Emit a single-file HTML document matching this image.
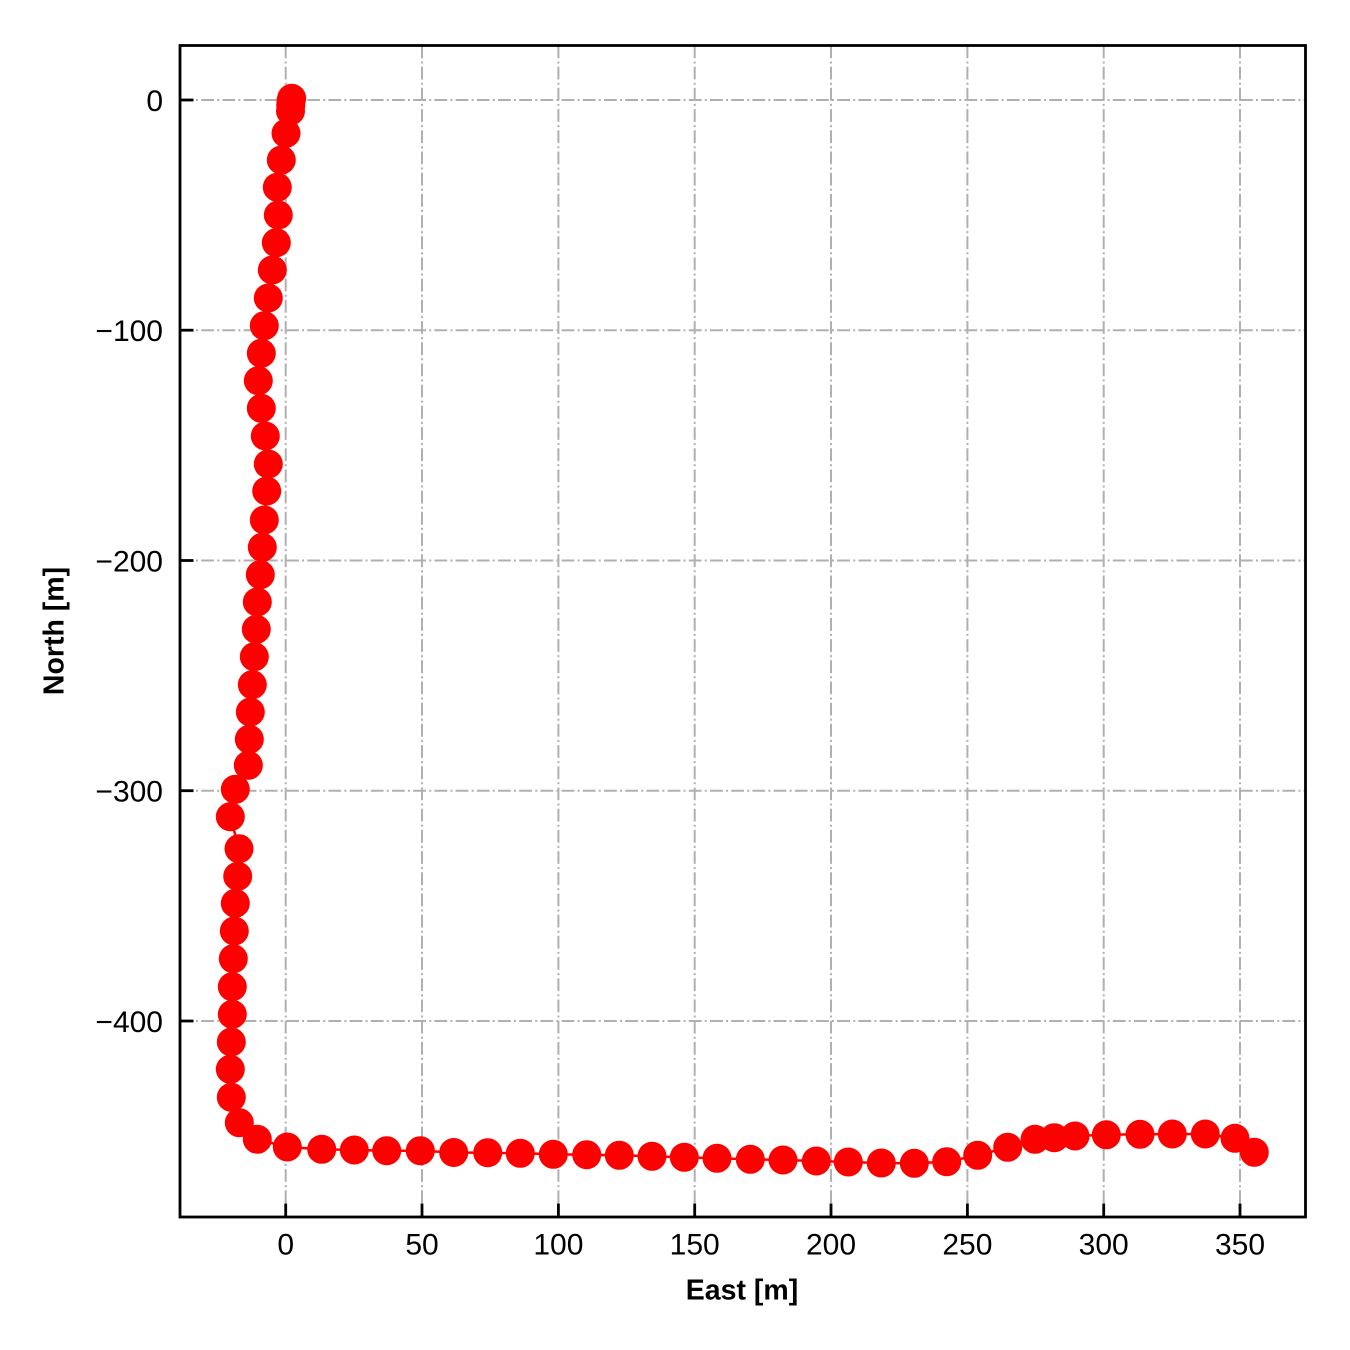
<!DOCTYPE html>
<html>
<head>
<meta charset="utf-8">
<style>
html,body{margin:0;padding:0;background:#fff;}
svg{display:block;}
text{font-family:"Liberation Sans",Arial,sans-serif;fill:#000;}
</style>
</head>
<body>
<svg width="1350" height="1350" viewBox="0 0 1350 1350" xmlns="http://www.w3.org/2000/svg">
<rect width="1350" height="1350" fill="#fff"/>
<defs>
<clipPath id="ax"><rect x="180" y="45.5" width="1125.5" height="1171.5"/></clipPath>
</defs>
<!-- grid -->
<g stroke="#b0b0b0" stroke-width="2" stroke-dasharray="12.8,3.2,2,3.2" fill="none">
<line x1="285.7" y1="45.5" x2="285.7" y2="1217"/>
<line x1="422" y1="45.5" x2="422" y2="1217"/>
<line x1="558.4" y1="45.5" x2="558.4" y2="1217"/>
<line x1="694.7" y1="45.5" x2="694.7" y2="1217"/>
<line x1="831" y1="45.5" x2="831" y2="1217"/>
<line x1="967.4" y1="45.5" x2="967.4" y2="1217"/>
<line x1="1103.7" y1="45.5" x2="1103.7" y2="1217"/>
<line x1="1240" y1="45.5" x2="1240" y2="1217"/>
<line x1="180" y1="100" x2="1305.5" y2="100"/>
<line x1="180" y1="330.2" x2="1305.5" y2="330.2"/>
<line x1="180" y1="560.5" x2="1305.5" y2="560.5"/>
<line x1="180" y1="790.7" x2="1305.5" y2="790.7"/>
<line x1="180" y1="1021" x2="1305.5" y2="1021"/>
</g>
<!-- data -->
<g clip-path="url(#ax)">
<polyline fill="none" stroke="#ff0000" stroke-width="2.5" points="291.7,98.3 291,101 290.7,105 290.5,111 286,133.3 281.3,160 277.3,187.3 278.3,215 276.3,242.7 272.3,270 268.3,298 264.3,325.7 261.3,353.3 258.3,380.7 261.3,408.3 265.3,436 268.3,464 266.7,491 264.3,520 262.3,547.3 260.3,574.7 257.3,602 256.3,629.3 254.3,656.7 252.3,684.7 250.3,712 249.3,739.3 248.3,765.3 235.3,789.3 230.3,816.7 239,848.7 237.7,876.3 235.3,903.3 234.3,931 233.3,958.7 232.3,986.7 232.3,1014.3 231.3,1042 230.3,1069.3 231.3,1097.3 239.3,1122.7 257.3,1139.3 287.3,1147 321.7,1149.3 354.3,1150 386.7,1150.7 420.3,1150.7 453.7,1152.5 487.7,1152.7 520.3,1153.3 553.3,1154.3 586.7,1154.7 619.3,1155.3 652,1156.3 684.3,1157.3 717,1158.3 750.3,1159.3 783,1160 816.3,1161 848.3,1162 881.3,1163 914.3,1163.3 946.7,1161.7 977.7,1155.3 1007.7,1147.3 1035,1139.3 1054.3,1137.7 1075,1136 1106.3,1134.8 1140,1134.3 1172.3,1134 1205.3,1134 1235,1138.3 1254.3,1152.3"/>
<g fill="#ff0000">
<circle cx="291.7" cy="98.3" r="14.5"/><circle cx="291" cy="101" r="14.5"/><circle cx="290.7" cy="105" r="14.5"/><circle cx="290.5" cy="111" r="14.5"/>
<circle cx="286" cy="133.3" r="14.5"/><circle cx="281.3" cy="160" r="14.5"/><circle cx="277.3" cy="187.3" r="14.5"/><circle cx="278.3" cy="215" r="14.5"/>
<circle cx="276.3" cy="242.7" r="14.5"/><circle cx="272.3" cy="270" r="14.5"/><circle cx="268.3" cy="298" r="14.5"/><circle cx="264.3" cy="325.7" r="14.5"/>
<circle cx="261.3" cy="353.3" r="14.5"/><circle cx="258.3" cy="380.7" r="14.5"/><circle cx="261.3" cy="408.3" r="14.5"/><circle cx="265.3" cy="436" r="14.5"/>
<circle cx="268.3" cy="464" r="14.5"/><circle cx="266.7" cy="491" r="14.5"/><circle cx="264.3" cy="520" r="14.5"/><circle cx="262.3" cy="547.3" r="14.5"/>
<circle cx="260.3" cy="574.7" r="14.5"/><circle cx="257.3" cy="602" r="14.5"/><circle cx="256.3" cy="629.3" r="14.5"/><circle cx="254.3" cy="656.7" r="14.5"/>
<circle cx="252.3" cy="684.7" r="14.5"/><circle cx="250.3" cy="712" r="14.5"/><circle cx="249.3" cy="739.3" r="14.5"/><circle cx="248.3" cy="765.3" r="14.5"/>
<circle cx="235.3" cy="789.3" r="14.5"/><circle cx="230.3" cy="816.7" r="14.5"/><circle cx="239" cy="848.7" r="14.5"/><circle cx="237.7" cy="876.3" r="14.5"/>
<circle cx="235.3" cy="903.3" r="14.5"/><circle cx="234.3" cy="931" r="14.5"/><circle cx="233.3" cy="958.7" r="14.5"/><circle cx="232.3" cy="986.7" r="14.5"/>
<circle cx="232.3" cy="1014.3" r="14.5"/><circle cx="231.3" cy="1042" r="14.5"/><circle cx="230.3" cy="1069.3" r="14.5"/><circle cx="231.3" cy="1097.3" r="14.5"/>
<circle cx="239.3" cy="1122.7" r="14.5"/><circle cx="257.3" cy="1139.3" r="14.5"/><circle cx="287.3" cy="1147" r="14.5"/><circle cx="321.7" cy="1149.3" r="14.5"/>
<circle cx="354.3" cy="1150" r="14.5"/><circle cx="386.7" cy="1150.7" r="14.5"/><circle cx="420.3" cy="1150.7" r="14.5"/><circle cx="453.7" cy="1152.5" r="14.5"/>
<circle cx="487.7" cy="1152.7" r="14.5"/><circle cx="520.3" cy="1153.3" r="14.5"/><circle cx="553.3" cy="1154.3" r="14.5"/><circle cx="586.7" cy="1154.7" r="14.5"/>
<circle cx="619.3" cy="1155.3" r="14.5"/><circle cx="652" cy="1156.3" r="14.5"/><circle cx="684.3" cy="1157.3" r="14.5"/><circle cx="717" cy="1158.3" r="14.5"/>
<circle cx="750.3" cy="1159.3" r="14.5"/><circle cx="783" cy="1160" r="14.5"/><circle cx="816.3" cy="1161" r="14.5"/><circle cx="848.3" cy="1162" r="14.5"/>
<circle cx="881.3" cy="1163" r="14.5"/><circle cx="914.3" cy="1163.3" r="14.5"/><circle cx="946.7" cy="1161.7" r="14.5"/><circle cx="977.7" cy="1155.3" r="14.5"/>
<circle cx="1007.7" cy="1147.3" r="14.5"/><circle cx="1035" cy="1139.3" r="14.5"/><circle cx="1054.3" cy="1137.7" r="14.5"/><circle cx="1075" cy="1136" r="14.5"/>
<circle cx="1106.3" cy="1134.8" r="14.5"/><circle cx="1140" cy="1134.3" r="14.5"/><circle cx="1172.3" cy="1134" r="14.5"/><circle cx="1205.3" cy="1134" r="14.5"/>
<circle cx="1235" cy="1138.3" r="14.5"/><circle cx="1254.3" cy="1152.3" r="14.5"/>
</g>
</g>
<!-- ticks (inward) -->
<g stroke="#000" stroke-width="2.8">
<line x1="285.7" y1="1217" x2="285.7" y2="1203.5"/>
<line x1="422" y1="1217" x2="422" y2="1203.5"/>
<line x1="558.4" y1="1217" x2="558.4" y2="1203.5"/>
<line x1="694.7" y1="1217" x2="694.7" y2="1203.5"/>
<line x1="831" y1="1217" x2="831" y2="1203.5"/>
<line x1="967.4" y1="1217" x2="967.4" y2="1203.5"/>
<line x1="1103.7" y1="1217" x2="1103.7" y2="1203.5"/>
<line x1="1240" y1="1217" x2="1240" y2="1203.5"/>
<line x1="180" y1="100" x2="193.5" y2="100"/>
<line x1="180" y1="330.2" x2="193.5" y2="330.2"/>
<line x1="180" y1="560.5" x2="193.5" y2="560.5"/>
<line x1="180" y1="790.7" x2="193.5" y2="790.7"/>
<line x1="180" y1="1021" x2="193.5" y2="1021"/>
</g>
<!-- spines -->
<rect x="180" y="45.5" width="1125.5" height="1171.5" fill="none" stroke="#000" stroke-width="2.8"/>
<!-- tick labels -->
<g font-size="30" text-anchor="middle">
<text x="285.7" y="1254.5">0</text>
<text x="422" y="1254.5">50</text>
<text x="558.4" y="1254.5">100</text>
<text x="694.7" y="1254.5">150</text>
<text x="831" y="1254.5">200</text>
<text x="967.4" y="1254.5">250</text>
<text x="1103.7" y="1254.5">300</text>
<text x="1240" y="1254.5">350</text>
</g>
<g font-size="30" text-anchor="end">
<text x="163" y="110.8">0</text>
<text x="163" y="341">−100</text>
<text x="163" y="571.3">−200</text>
<text x="163" y="801.5">−300</text>
<text x="163" y="1031.8">−400</text>
</g>
<!-- axis labels -->
<text x="742" y="1299.5" font-size="28.5" font-weight="bold" text-anchor="middle">East [m]</text>
<text transform="translate(63.5,631) rotate(-90)" font-size="28.5" font-weight="bold" text-anchor="middle">North [m]</text>
</svg>
</body>
</html>
